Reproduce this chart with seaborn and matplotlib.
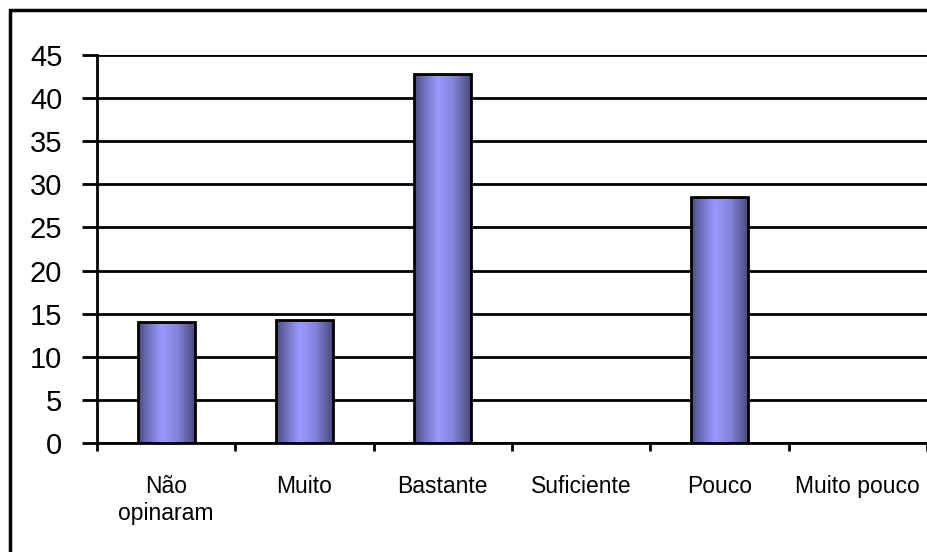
import numpy as np
import matplotlib
matplotlib.use("Agg")
import matplotlib.pyplot as plt
from matplotlib.colors import LinearSegmentedColormap
from matplotlib.patches import Rectangle
from matplotlib.ticker import FixedLocator
import seaborn as sns
import pandas as pd

categories = ["Não\nopinaram", "Muito", "Bastante", "Suficiente", "Pouco", "Muito pouco"]
values = [14.0, 14.3, 42.8, 0.0, 28.5, 0.0]
yticks = [0, 5, 10, 15, 20, 25, 30, 35, 40, 45]

sns.set_theme(style="white")
plt.rcParams["font.family"] = ["Liberation Sans", "DejaVu Sans"]
plt.rcParams["text.color"] = "black"
plt.rcParams["xtick.color"] = "black"
plt.rcParams["ytick.color"] = "black"

fig = plt.figure(figsize=(9.28, 5.52), dpi=100)
ax = fig.add_axes([97 / 928, 1 - 443 / 552, 830 / 928, 388 / 552])

df = pd.DataFrame({"cat": categories, "val": values})
sns.barplot(data=df, x="cat", y="val", color="#9999ff", width=0.41,
            edgecolor="black", linewidth=2, saturation=1, ax=ax)

# cylinder-like horizontal gradient inside each bar
cmap = LinearSegmentedColormap.from_list(
    "cyl", [(0.0, "#4a4a7e"), (0.15, "#6a6ab4"), (0.42, "#9a9aff"),
            (0.7, "#8282d8"), (0.9, "#5c5c9c"), (1.0, "#4a4a7a")])
grad = np.linspace(0, 1, 256).reshape(1, -1)
for p in list(ax.patches):
    h = p.get_height()
    if h <= 0:
        p.set_visible(False)
        continue
    x0 = p.get_x()
    w = p.get_width()
    im = ax.imshow(grad, cmap=cmap, aspect="auto", extent=(x0, x0 + w, 0, h),
                   zorder=2.5, interpolation="bicubic")
    im.set_clip_path(p)
    p.set_facecolor("none")
    p.set_zorder(3)

ax.set_xlim(-0.5, 5.5)
ax.set_ylim(0, 45)
ax.set_yticks(yticks)
ax.set_xlabel("")
ax.set_ylabel("")

ax.grid(axis="y", color="black", linewidth=2)
ax.set_axisbelow(True)
for s in ["top", "right"]:
    ax.spines[s].set_visible(False)
for s in ["left", "bottom"]:
    ax.spines[s].set_color("black")
    ax.spines[s].set_linewidth(2)
    ax.spines[s].set_zorder(4)

ax.tick_params(axis="y", which="major", length=11, width=2, color="black",
               direction="out", left=True, labelsize=21, pad=14,
               labelcolor="black")
ax.set_xticks(range(len(categories)))
ax.set_xticklabels(categories, fontsize=16.5, linespacing=1.2, color="black")
ax.tick_params(axis="x", which="major", length=0, pad=23)
ax.xaxis.set_minor_locator(FixedLocator(np.arange(-0.5, 6.0, 1.0)))
ax.tick_params(axis="x", which="minor", length=6, width=2, color="black",
               direction="out", bottom=True)

fig.patches.append(Rectangle((10 / 928, -0.2), 1.2, 1.2 - 10 / 552,
                             transform=fig.transFigure, fill=False,
                             edgecolor="black", linewidth=2.5))

fig.savefig("out.png", dpi=100)
